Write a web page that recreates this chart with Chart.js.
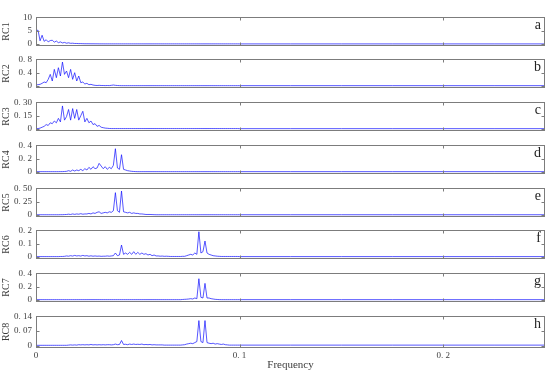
<!DOCTYPE html>
<html>
<head>
<meta charset="utf-8">
<script src="https://cdn.jsdelivr.net/npm/chart.js@4.4.1/dist/chart.umd.min.js"></script>
<style>
  body { margin: 0; background: #fff; }
  #wrap { position: relative; width: 550px; height: 372px; }
  #wrap canvas { position: absolute; left: 0; }
</style>
</head>
<body>
<div id="wrap"></div>
<script>
// frequency grid (dense where the spectra are active)
const freq = [
  0, 0.001, 0.002, 0.003, 0.004, 0.005, 0.006, 0.007, 0.008, 0.009,
  0.010, 0.011, 0.012, 0.013, 0.014, 0.015, 0.016, 0.017, 0.018, 0.019,
  0.020, 0.021, 0.022, 0.023, 0.024, 0.025, 0.026, 0.027, 0.028, 0.029,
  0.030, 0.031, 0.032, 0.033, 0.034, 0.035, 0.036, 0.037, 0.038, 0.039,
  0.040, 0.041, 0.042, 0.043, 0.044, 0.045, 0.046, 0.047, 0.048, 0.049,
  0.050, 0.051, 0.052, 0.053, 0.054, 0.055, 0.056, 0.057, 0.058, 0.059,
  0.060, 0.061, 0.062, 0.063, 0.064, 0.065, 0.066, 0.067, 0.068, 0.069,
  0.070, 0.071, 0.072, 0.073, 0.074, 0.075, 0.076, 0.077, 0.078, 0.079,
  0.080, 0.081, 0.082, 0.083, 0.084, 0.085, 0.086, 0.087, 0.088, 0.089,
  0.090, 0.091, 0.092, 0.093, 0.094, 0.095, 0.096, 0.097, 0.098, 0.099,
  0.100, 0.125, 0.150, 0.175, 0.200, 0.225, 0.250
];

const rc1 = [
  5.0, 5.2, 1.2, 3.3, 1.0, 1.6, 0.8, 1.3, 1.4, 0.7,
  1.1, 0.5, 0.8, 0.4, 0.6, 0.3, 0.45, 0.25, 0.3, 0.2,
  0.2, 0.15, 0.15, 0.12, 0.1, 0.1, 0.09, 0.08, 0.08, 0.07,
  0.07, 0.06, 0.06, 0.06, 0.05, 0.05, 0.05, 0.05, 0.05, 0.05,
  0.05, 0.05, 0.05, 0.05, 0.05, 0.05, 0.05, 0.05, 0.05, 0.05,
  0.05, 0.05, 0.05, 0.05, 0.05, 0.05, 0.05, 0.05, 0.05, 0.05,
  0.05, 0.05, 0.05, 0.05, 0.05, 0.05, 0.05, 0.05, 0.05, 0.05,
  0.05, 0.05, 0.05, 0.05, 0.05, 0.05, 0.05, 0.05, 0.05, 0.05,
  0.05, 0.05, 0.05, 0.05, 0.05, 0.05, 0.05, 0.05, 0.05, 0.05,
  0.05, 0.05, 0.05, 0.05, 0.05, 0.05, 0.05, 0.05, 0.05, 0.05,
  0.04, 0.04, 0.04, 0.04, 0.04, 0.04, 0.04
];
const rc2 = [
  0.03, 0.04, 0.05, 0.08, 0.12, 0.1, 0.2, 0.35, 0.15, 0.5,
  0.25, 0.55, 0.3, 0.72, 0.35, 0.45, 0.25, 0.5, 0.2, 0.4,
  0.15, 0.3, 0.1, 0.12, 0.06, 0.08, 0.04, 0.05, 0.03, 0.02,
  0.015, 0.02, 0.015, 0.015, 0.012, 0.015, 0.012, 0.02, 0.03, 0.02,
  0.015, 0.012, 0.01, 0.01, 0.01, 0.01, 0.01, 0.01, 0.01, 0.01,
  0.01, 0.01, 0.01, 0.01, 0.01, 0.01, 0.01, 0.01, 0.01, 0.01,
  0.01, 0.01, 0.01, 0.01, 0.01, 0.01, 0.01, 0.01, 0.01, 0.01,
  0.01, 0.01, 0.01, 0.01, 0.01, 0.01, 0.01, 0.01, 0.01, 0.01,
  0.01, 0.01, 0.01, 0.01, 0.01, 0.01, 0.01, 0.01, 0.01, 0.01,
  0.01, 0.01, 0.01, 0.01, 0.01, 0.01, 0.01, 0.01, 0.01, 0.01,
  0.01, 0.01, 0.01, 0.01, 0.01, 0.01, 0.01
];
const rc3 = [
  0.005, 0.005, 0.01, 0.02, 0.03, 0.05, 0.04, 0.07, 0.06, 0.09,
  0.07, 0.12, 0.08, 0.26, 0.1, 0.14, 0.22, 0.1, 0.23, 0.12,
  0.22, 0.1, 0.15, 0.2, 0.08, 0.12, 0.07, 0.09, 0.05, 0.06,
  0.03, 0.04, 0.02, 0.015, 0.01, 0.008, 0.006, 0.005, 0.005, 0.005,
  0.005, 0.005, 0.005, 0.005, 0.005, 0.005, 0.005, 0.005, 0.005, 0.005,
  0.005, 0.005, 0.005, 0.005, 0.005, 0.005, 0.005, 0.005, 0.005, 0.005,
  0.005, 0.005, 0.005, 0.005, 0.005, 0.005, 0.005, 0.005, 0.005, 0.005,
  0.005, 0.005, 0.005, 0.005, 0.005, 0.005, 0.005, 0.005, 0.005, 0.005,
  0.005, 0.005, 0.005, 0.005, 0.005, 0.005, 0.005, 0.005, 0.005, 0.005,
  0.005, 0.005, 0.005, 0.005, 0.005, 0.005, 0.005, 0.005, 0.005, 0.005,
  0.004, 0.004, 0.004, 0.004, 0.004, 0.004, 0.004
];
const rc4 = [
  0.005, 0.005, 0.005, 0.005, 0.005, 0.005, 0.005, 0.005, 0.005, 0.005,
  0.005, 0.005, 0.006, 0.006, 0.008, 0.01, 0.02, 0.01, 0.03, 0.015,
  0.03, 0.02, 0.04, 0.02, 0.05, 0.03, 0.07, 0.04, 0.08, 0.05,
  0.06, 0.13, 0.09, 0.05, 0.08, 0.04, 0.07, 0.05, 0.1, 0.35,
  0.06, 0.04, 0.26, 0.04, 0.03, 0.02, 0.015, 0.01, 0.008, 0.006,
  0.005, 0.005, 0.005, 0.005, 0.005, 0.005, 0.005, 0.005, 0.005, 0.005,
  0.005, 0.005, 0.005, 0.005, 0.005, 0.005, 0.005, 0.005, 0.005, 0.005,
  0.005, 0.005, 0.005, 0.005, 0.005, 0.005, 0.005, 0.005, 0.005, 0.005,
  0.005, 0.005, 0.005, 0.005, 0.005, 0.005, 0.005, 0.005, 0.005, 0.005,
  0.005, 0.005, 0.005, 0.005, 0.005, 0.005, 0.005, 0.005, 0.005, 0.005,
  0.005, 0.005, 0.005, 0.005, 0.005, 0.005, 0.005
];
const rc5 = [
  0.005, 0.005, 0.005, 0.005, 0.005, 0.005, 0.005, 0.005, 0.005, 0.005,
  0.005, 0.005, 0.006, 0.006, 0.008, 0.01, 0.015, 0.01, 0.02, 0.012,
  0.02, 0.015, 0.025, 0.015, 0.02, 0.02, 0.03, 0.02, 0.04, 0.03,
  0.05, 0.06, 0.03, 0.04, 0.05, 0.04, 0.06, 0.05, 0.08, 0.42,
  0.08, 0.05, 0.45, 0.06, 0.05, 0.04, 0.05, 0.03, 0.04, 0.03,
  0.03, 0.02, 0.02, 0.015, 0.01, 0.01, 0.01, 0.008, 0.006, 0.005,
  0.005, 0.005, 0.005, 0.005, 0.005, 0.005, 0.005, 0.005, 0.005, 0.005,
  0.005, 0.005, 0.005, 0.005, 0.005, 0.005, 0.005, 0.005, 0.005, 0.005,
  0.005, 0.005, 0.005, 0.005, 0.005, 0.005, 0.005, 0.005, 0.005, 0.005,
  0.005, 0.005, 0.005, 0.005, 0.005, 0.005, 0.005, 0.005, 0.005, 0.005,
  0.005, 0.005, 0.005, 0.005, 0.005, 0.005, 0.005
];
const rc6 = [
  0.003, 0.003, 0.003, 0.003, 0.003, 0.003, 0.003, 0.003, 0.003, 0.003,
  0.003, 0.003, 0.004, 0.004, 0.005, 0.008, 0.006, 0.01, 0.007, 0.012,
  0.008, 0.01, 0.007, 0.012, 0.008, 0.01, 0.006, 0.009, 0.006, 0.008,
  0.006, 0.007, 0.005, 0.006, 0.006, 0.008, 0.006, 0.008, 0.01, 0.03,
  0.01, 0.015, 0.09, 0.02, 0.03, 0.02, 0.035, 0.02, 0.04, 0.02,
  0.035, 0.02, 0.03, 0.02, 0.025, 0.015, 0.02, 0.01, 0.015, 0.008,
  0.008, 0.006, 0.007, 0.005, 0.006, 0.005, 0.004, 0.004, 0.004, 0.004,
  0.004, 0.004, 0.005, 0.005, 0.01, 0.015, 0.02, 0.015, 0.03, 0.02,
  0.19, 0.03, 0.04, 0.12, 0.03, 0.02, 0.015, 0.01, 0.008, 0.006,
  0.005, 0.004, 0.004, 0.004, 0.004, 0.004, 0.004, 0.004, 0.004, 0.004,
  0.003, 0.003, 0.003, 0.003, 0.003, 0.003, 0.003
];
const rc7 = [
  0.005, 0.005, 0.005, 0.005, 0.005, 0.005, 0.005, 0.005, 0.005, 0.005,
  0.005, 0.005, 0.005, 0.005, 0.005, 0.005, 0.005, 0.005, 0.005, 0.005,
  0.005, 0.005, 0.005, 0.005, 0.005, 0.005, 0.005, 0.005, 0.005, 0.005,
  0.005, 0.005, 0.005, 0.005, 0.005, 0.005, 0.005, 0.005, 0.005, 0.005,
  0.005, 0.005, 0.005, 0.005, 0.005, 0.005, 0.005, 0.005, 0.005, 0.005,
  0.005, 0.005, 0.005, 0.005, 0.005, 0.005, 0.005, 0.005, 0.005, 0.005,
  0.005, 0.005, 0.005, 0.005, 0.005, 0.005, 0.005, 0.005, 0.005, 0.005,
  0.005, 0.005, 0.008, 0.01, 0.012, 0.015, 0.02, 0.015, 0.03, 0.02,
  0.32, 0.04, 0.03, 0.25, 0.03, 0.03, 0.02, 0.015, 0.01, 0.008,
  0.006, 0.005, 0.005, 0.005, 0.005, 0.005, 0.005, 0.005, 0.005, 0.005,
  0.005, 0.005, 0.005, 0.005, 0.005, 0.005, 0.005
];
const rc8 = [
  0.002, 0.002, 0.002, 0.002, 0.002, 0.002, 0.002, 0.002, 0.002, 0.002,
  0.002, 0.002, 0.002, 0.002, 0.002, 0.002, 0.003, 0.004, 0.003, 0.004,
  0.003, 0.005, 0.004, 0.005, 0.004, 0.005, 0.004, 0.006, 0.004, 0.005,
  0.004, 0.005, 0.004, 0.005, 0.004, 0.005, 0.005, 0.004, 0.005, 0.008,
  0.005, 0.006, 0.025, 0.006, 0.007, 0.005, 0.008, 0.006, 0.008, 0.006,
  0.007, 0.006, 0.008, 0.005, 0.006, 0.005, 0.006, 0.004, 0.005, 0.004,
  0.004, 0.004, 0.004, 0.003, 0.003, 0.003, 0.003, 0.003, 0.003, 0.003,
  0.003, 0.003, 0.004, 0.005, 0.008, 0.01, 0.012, 0.01, 0.015, 0.02,
  0.12, 0.02, 0.015, 0.12, 0.015, 0.012, 0.01, 0.012, 0.008, 0.01,
  0.008, 0.006, 0.008, 0.005, 0.004, 0.003, 0.003, 0.003, 0.003, 0.003,
  0.003, 0.003, 0.003, 0.003, 0.003, 0.003, 0.003
];

const series = [rc1, rc2, rc3, rc4, rc5, rc6, rc7, rc8];
const names = ['RC1', 'RC2', 'RC3', 'RC4', 'RC5', 'RC6', 'RC7', 'RC8'];
const letters = ['a', 'b', 'c', 'd', 'e', 'f', 'g', 'h'];
const yTicks = [
  [0, 5, 10], [0, 0.4, 0.8], [0, 0.15, 0.3], [0, 0.2, 0.4],
  [0, 0.25, 0.5], [0, 0.1, 0.2], [0, 0.2, 0.4], [0, 0.07, 0.14]
];
const yLabels = [
  ['0', '5', '10'], ['0', '0. 4', '0. 8'], ['0', '0. 15', '0. 30'], ['0', '0. 2', '0. 4'],
  ['0', '0. 25', '0. 50'], ['0', '0. 1', '0. 2'], ['0', '0. 2', '0. 4'], ['0', '0. 07', '0. 14']
];
const xTicks = [0, 0.1, 0.2];
const xLabels = ['0', '0. 1', '0. 2'];

const serif = 'Liberation Serif';
const textCol = '#3c3c3c';
const lineCol = 'rgba(20, 20, 255, 0.8)';

// panel box tops (px) and height
const tops = [13.5, 56.3, 99, 141.8, 184.6, 227.4, 270.2, 313];
const boxH = 34.5;

// draws the box, inward tick marks and the panel letter
const framePlugin = {
  id: 'frame',
  afterDraw(chart, args, opts) {
    const ctx = chart.ctx;
    const a = chart.chartArea;
    const xs = chart.scales.x, ys = chart.scales.y;
    const l = Math.round(a.left) + 0.5, r = Math.round(a.right) - 0.5;
    const t = Math.round(a.top) + 0.5, b = Math.round(a.bottom) - 0.5;
    ctx.save();
    ctx.strokeStyle = '#7c7c7c';
    ctx.lineWidth = 1;
    ctx.strokeRect(l, t, r - l, b - t);
    ctx.beginPath();
    xTicks.forEach(v => {
      if (v <= 0) return;
      const x = Math.round(xs.getPixelForValue(v)) + 0.5;
      ctx.moveTo(x, t); ctx.lineTo(x, t + 3);
      ctx.moveTo(x, b); ctx.lineTo(x, b - 3);
    });
    ys.ticks.forEach(tk => {
      const y = Math.round(ys.getPixelForValue(tk.value)) + 0.5;
      ctx.moveTo(l, y); ctx.lineTo(l + 3, y);
      ctx.moveTo(r, y); ctx.lineTo(r - 3, y);
    });
    ctx.stroke();
    ctx.fillStyle = '#222';
    ctx.font = '14px "' + serif + '"';
    ctx.textAlign = 'right';
    ctx.textBaseline = 'top';
    ctx.fillText(opts.letter, a.right - 4, a.top + 1);
    ctx.restore();
  }
};

const wrap = document.getElementById('wrap');

series.forEach((vals, k) => {
  const last = k === series.length - 1;
  const cv = document.createElement('canvas');
  const top = tops[k] - 6;
  const h = last ? 372 - top : boxH + 12;
  cv.width = 550;
  cv.height = Math.round(h);
  cv.style.top = top + 'px';
  wrap.appendChild(cv);

  const ymax = yTicks[k][yTicks[k].length - 1];

  new Chart(cv.getContext('2d'), {
    type: 'line',
    data: {
      datasets: [{
        data: freq.map((f, i) => ({x: f, y: vals[i]})),
        borderColor: lineCol,
        borderWidth: 0.9,
        pointRadius: 0,
        tension: 0,
        fill: false
      }]
    },
    options: {
      responsive: false,
      animation: false,
      events: [],
      layout: {padding: {top: 6, bottom: last ? 0 : 6, left: 0, right: 5}},
      plugins: {
        legend: {display: false},
        tooltip: {enabled: false},
        frame: {letter: letters[k]}
      },
      scales: {
        x: {
          type: 'linear',
          min: 0,
          max: 0.25,
          display: last,
          afterBuildTicks: s => { s.ticks = xTicks.map(v => ({value: v})); },
          afterFit: s => { if (last) s.height = 372 - (tops[k] + boxH); },
          grid: {display: false, drawTicks: false},
          border: {display: false},
          ticks: {
            autoSkip: false,
            maxRotation: 0,
            padding: 3,
            color: textCol,
            font: {family: serif, size: 9},
            callback: (v, i) => xLabels[i]
          },
          title: {
            display: true,
            text: 'Frequency',
            color: textCol,
            font: {family: serif, size: 11},
            padding: {top: 0, bottom: 0}
          }
        },
        y: {
          min: -0.06 * ymax,
          max: ymax,
          afterBuildTicks: s => { s.ticks = yTicks[k].map(v => ({value: v})); },
          afterFit: s => { s.width = 36; },
          grid: {display: false, drawTicks: false},
          border: {display: false},
          ticks: {
            autoSkip: false,
            padding: 4,
            color: textCol,
            font: {family: serif, size: 9},
            callback: (v, i) => yLabels[k][i]
          },
          title: {
            display: true,
            text: names[k],
            color: textCol,
            font: {family: serif, size: 10},
            padding: {top: 0, bottom: 2}
          }
        }
      }
    },
    plugins: [framePlugin]
  });
});
</script>
</body>
</html>
